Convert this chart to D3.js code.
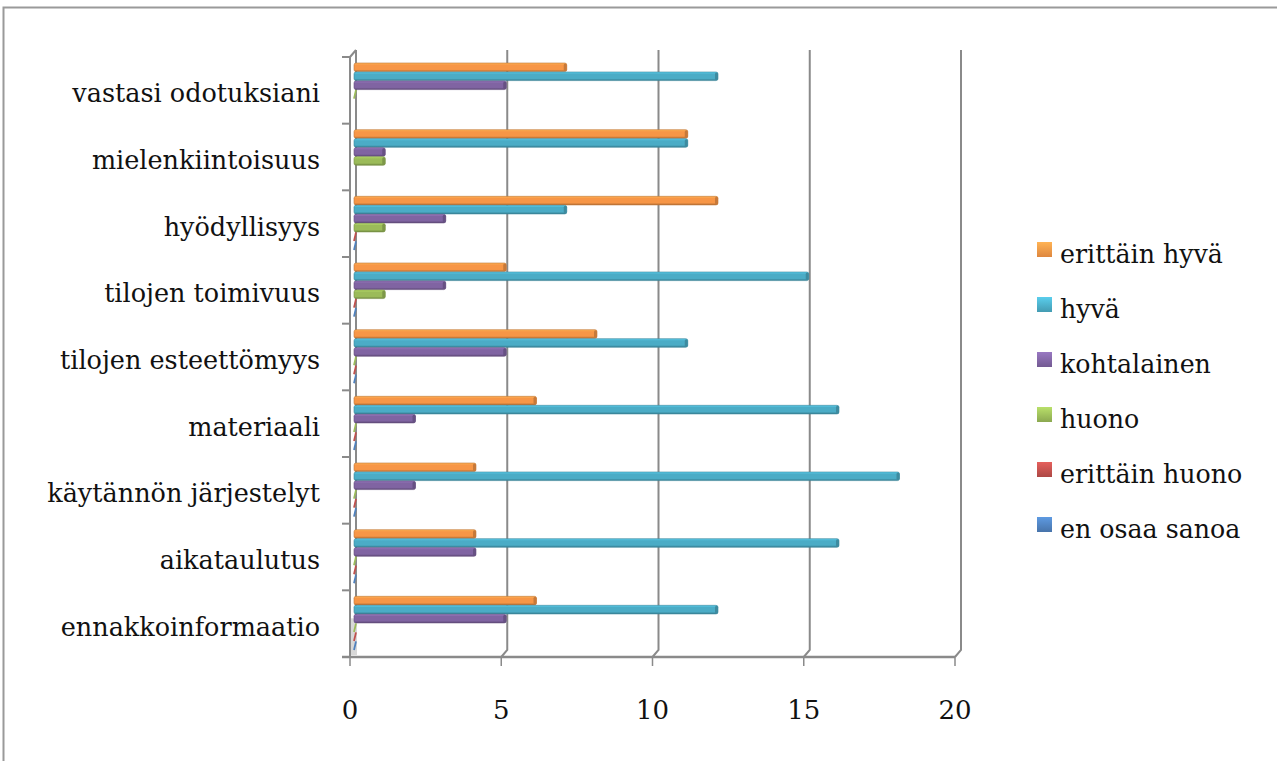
<!DOCTYPE html>
<html>
<head>
<meta charset="utf-8">
<script src="https://cdn.jsdelivr.net/npm/d3@7"></script>
<style>
  html, body { margin: 0; padding: 0; background: #fff; }
  svg { display: block; }
  text { font-family: "DejaVu Serif", serif; fill: #111; }
</style>
</head>
<body>
<svg id="chart" width="1277" height="761"></svg>
<script>
// ---- data (source order: bottom category first) ----
const categories = ["ennakkoinformaatio", "aikataulutus", "käytännön järjestelyt", "materiaali",
  "tilojen esteettömyys", "tilojen toimivuus", "hyödyllisyys", "mielenkiintoisuus", "vastasi odotuksiani"];
const seriesNames = ["erittäin hyvä", "hyvä", "kohtalainen", "huono", "erittäin huono", "en osaa sanoa"];
const seriesColors = ["#F79646", "#4BACC6", "#8064A2", "#9BBB59", "#C0504D", "#4F81BD"];
const erittainHyva   = [6, 4, 4, 6, 8, 5, 12, 11, 7];
const hyva           = [12, 16, 18, 16, 11, 15, 7, 11, 12];
const kohtalainen    = [5, 4, 2, 2, 5, 3, 3, 1, 5];
const huono          = [0, 0, 0, 0, 0, 1, 1, 1, 0];
const erittainHuono  = [0, 0, 0, 0, 0, 0, 0, null, null];
const enOsaaSanoa    = [0, 0, 0, 0, 0, 0, 0, null, null];
const xTicks = [0, 5, 10, 15, 20];

const seriesValues = [erittainHyva, hyva, kohtalainen, huono, erittainHuono, enOsaaSanoa];

const svg = d3.select("#chart");

// outer frame
svg.append("rect").attr("x", 3.5).attr("y", 7.5).attr("width", 1300).attr("height", 800)
  .attr("fill", "none").attr("stroke", "#9a9a9a").attr("stroke-width", 2);

// scales
const plotTop = 57, plotBottom = 657;
const x = d3.scaleLinear().domain([0, 20]).range([350, 955]);   // front plane
const depthX = 6, depthY = -7;                                   // 3D offset to back wall
const y = d3.scaleBand().domain(categories.slice().reverse()).range([plotTop, plotBottom]);
const yInner = d3.scaleBand().domain(seriesNames).range([6, 60]);
const barH = 8.6;

const defs = svg.append("defs");
seriesColors.forEach((c, i) => {
  const base = d3.color(c);
  const g = defs.append("linearGradient").attr("id", "grad" + i)
    .attr("x1", 0).attr("y1", 0).attr("x2", 0).attr("y2", 1);
  g.append("stop").attr("offset", "0%").attr("stop-color", base.brighter(0.5));
  g.append("stop").attr("offset", "25%").attr("stop-color", base);
  g.append("stop").attr("offset", "75%").attr("stop-color", base);
  g.append("stop").attr("offset", "100%").attr("stop-color", base.darker(0.9));
});

const gridColor = "#8a8a8a";

// back wall gridlines (with diagonal to floor)
const grid = svg.append("g");
xTicks.forEach(v => {
  if (v === 0) return;
  const fx = x(v), bx = x(v) + depthX;
  grid.append("path")
    .attr("d", `M${bx},${plotTop + depthY} L${bx},${plotBottom + depthY} L${fx},${plotBottom}`)
    .attr("fill", "none").attr("stroke", gridColor).attr("stroke-width", 2);
});
// back wall left edge
grid.append("path")
  .attr("d", `M${x(0) + depthX},${plotTop + depthY} L${x(0) + depthX},${plotBottom + depthY}`)
  .attr("stroke", gridColor).attr("stroke-width", 2).attr("fill", "none");
// side wall shading near floor
grid.append("rect").attr("x", x(0) + 1).attr("y", y(categories[0]) + 28)
  .attr("width", depthX).attr("height", y.bandwidth() - 30).attr("fill", "#d8d8d8");

// bars
const barsG = svg.append("g");
seriesNames.forEach((s, si) => {
  const vals = seriesValues[si];
  const data = categories.map((c, ci) => ({ c, v: vals[ci] })).filter(d => d.v !== null);
  const g = barsG.append("g");
  data.forEach(d => {
    const y0 = y(d.c) + yInner(s);
    if (d.v === 0) {
      g.append("path")
        .attr("d", `M${x(0) + 4},${y0 + barH} L${x(0) + 6},${y0}`)
        .attr("stroke", seriesColors[si]).attr("stroke-width", 1.8).attr("fill", "none");
      return;
    }
    const x0 = x(0) + 4, x1 = x(d.v) + 5;
    g.append("rect").attr("x", x0).attr("y", y0).attr("width", x1 - x0).attr("height", barH)
      .attr("rx", 2).attr("fill", `url(#grad${si})`)
      .attr("stroke", d3.color(seriesColors[si]).darker(0.7)).attr("stroke-width", 0.6);
    g.append("rect").attr("x", x1 - 3).attr("y", y0 + 0.5).attr("width", 3).attr("height", barH - 1)
      .attr("rx", 1.5).attr("fill", d3.color(seriesColors[si]).darker(0.6));
  });
});

// front axes
const axes = svg.append("g");
axes.append("path")
  .attr("d", `M${x(0)},${plotTop} L${x(0)},${plotBottom} M${x(0)},${plotTop} L${x(0) + depthX},${plotTop + depthY}`)
  .attr("stroke", gridColor).attr("stroke-width", 2).attr("fill", "none");
// category tick marks
d3.range(categories.length + 1).forEach(i => {
  const yy = plotTop + i * y.step();
  axes.append("line").attr("x1", x(0) - 8).attr("x2", x(0)).attr("y1", yy).attr("y2", yy)
    .attr("stroke", gridColor).attr("stroke-width", 2);
});
// floor front line
axes.append("line").attr("x1", x(0) - 8).attr("x2", x(20)).attr("y1", plotBottom).attr("y2", plotBottom)
  .attr("stroke", gridColor).attr("stroke-width", 2.5);
xTicks.forEach(v => {
  axes.append("line").attr("x1", x(v)).attr("x2", x(v)).attr("y1", plotBottom).attr("y2", plotBottom + 9)
    .attr("stroke", gridColor).attr("stroke-width", 1.5);
});

// x tick labels
svg.append("g").selectAll("text").data(xTicks).join("text")
  .attr("x", d => x(d)).attr("y", 719).attr("text-anchor", "middle")
  .attr("font-size", 26).text(d => d);

// category labels
svg.append("g").selectAll("text").data(categories).join("text")
  .attr("x", 320).attr("y", d => y(d) + y.bandwidth() / 2 + 12)
  .attr("text-anchor", "end").attr("font-size", 25.5).text(d => d);

// legend
const legend = svg.append("g");
seriesNames.forEach((s, i) => {
  const top = 242 + i * 55;
  const lg = defs.append("linearGradient").attr("id", "lg" + i)
    .attr("x1", 0).attr("y1", 0).attr("x2", 0).attr("y2", 1);
  lg.append("stop").attr("offset", "0%").attr("stop-color", d3.color(seriesColors[i]).brighter(0.5));
  lg.append("stop").attr("offset", "100%").attr("stop-color", d3.color(seriesColors[i]).darker(0.3));
  legend.append("rect").attr("x", 1037).attr("y", top).attr("width", 15).attr("height", 15)
    .attr("fill", `url(#lg${i})`);
  legend.append("text").attr("x", 1060).attr("y", top + 21).attr("font-size", 25.3).text(s);
});
</script>
</body>
</html>
